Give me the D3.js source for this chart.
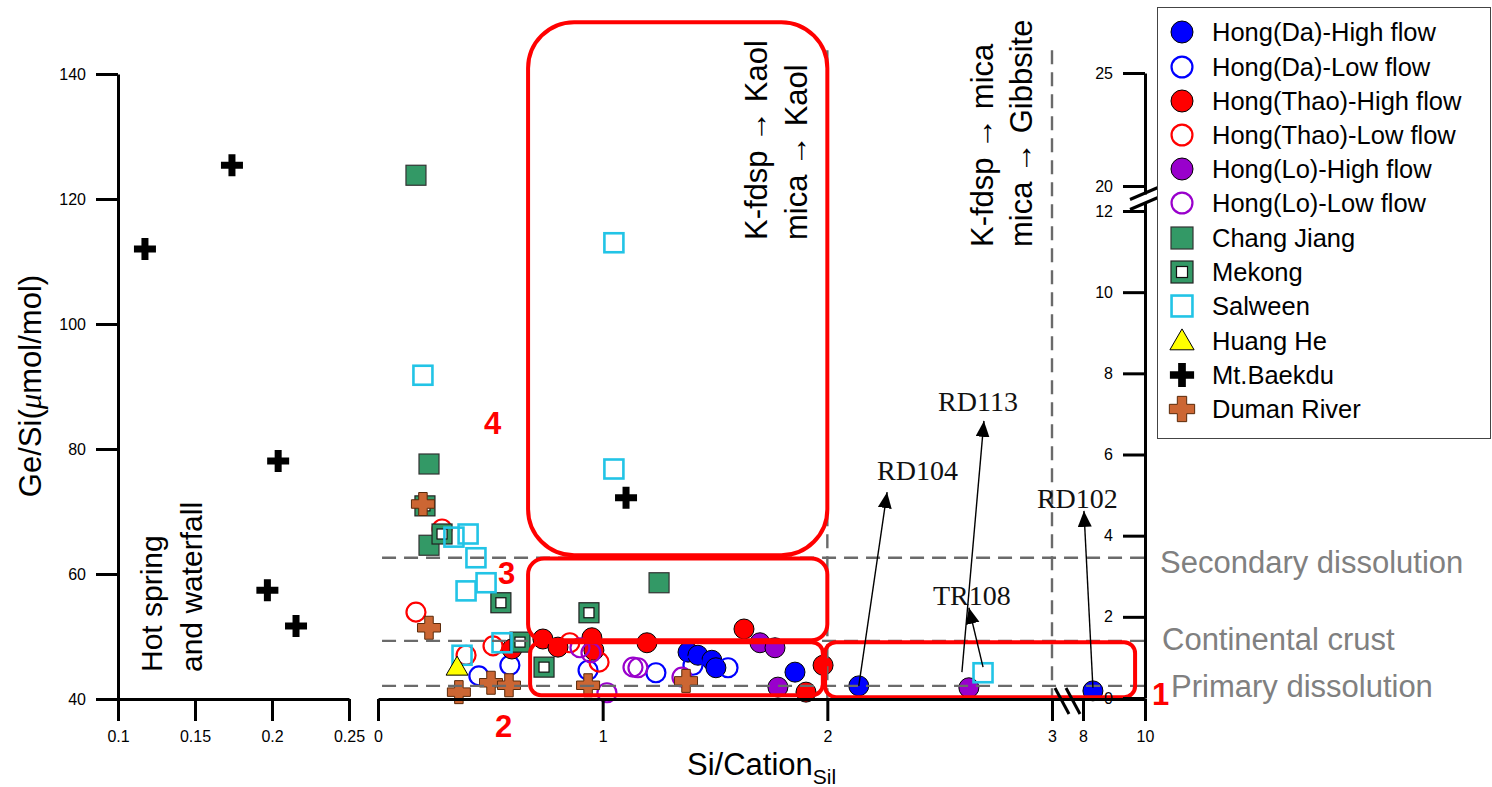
<!DOCTYPE html>
<html><head><meta charset="utf-8">
<script src="https://cdn.jsdelivr.net/npm/d3@7"></script>
<style>body{margin:0;background:#fff;} svg{display:block;}</style>
</head><body>
<svg id="chart" width="1492" height="787"></svg>
<script>
// ---------------- DATA ----------------
const leftXTicks = [0.1, 0.15, 0.2, 0.25];
const leftXTickLabels = ["0.1", "0.15", "0.2", "0.25"];
const leftYTicks = [40, 60, 80, 100, 120, 140];
const midXTicks = [0, 1, 2, 3, 8, 10];
const midXTickLabels = ["0", "1", "2", "3", "8", "10"];
const rightYTicks = [0, 2, 4, 6, 8, 10, 12, 20, 25];

// left panel (hot spring & waterfall)
const mtBaekduHot = [[0.1175,112.0],[0.174,125.4],[0.204,78.1],[0.197,57.4],[0.2156,51.7]];

// main panel series: [Si/Cation_Sil, Ge/Si]
const hongDaHigh   = [[1.380,47.5],[1.424,47.0],[1.486,46.2],[1.504,45.0],[1.856,44.3],[2.14,42.1],[8.32,41.3]];
const hongDaLow    = [[0.449,43.7],[0.587,45.4],[0.935,44.6],[1.237,44.2],[1.402,45.4],[1.558,45.0]];
const hongThaoHigh = [[0.596,48.0],[0.734,49.6],[0.801,48.3],[0.952,49.8],[0.961,47.8],[1.197,49.0],[1.629,51.2],[1.905,41.1],[1.981,45.4]];
const hongThaoLow  = [[0.169,53.9],[0.285,67.2],[0.392,47.0],[0.512,48.5],[0.854,49.0],[0.984,45.9]];
const hongLoHigh   = [[1.700,49.0],[1.767,48.2],[1.780,41.9],[2.63,41.8]];
const hongLoLow    = [[0.899,48.2],[0.948,47.4],[1.019,41.0],[1.135,45.1],[1.157,45.0],[1.353,43.5]];
const changJiang   = [[0.169,123.8],[0.227,77.6],[0.227,64.6],[1.251,58.6]];
const mekong       = [[0.209,70.9],[0.285,66.4],[0.547,55.4],[0.632,49.1],[0.739,45.1],[0.939,53.8]];
const salween      = [[0.200,91.8],[1.050,113.0],[1.050,76.8],[0.338,65.9],[0.401,66.4],[0.436,62.6],[0.481,58.6],[0.392,57.3],[0.552,49.0],[0.374,47.0],[2.693,44.2]];
const huangHe      = [[0.352,45.1]];
const mtBaekdu     = [[1.104,72.2]];
const dumanRiver   = [[0.200,71.2],[0.227,51.4],[0.360,41.1],[0.503,42.6],[0.583,42.2],[0.935,42.2],[1.371,42.9]];

// reference lines (Ge/Si) and weathering limits (Si/Cation)
const refLevels = [62.6, 49.3, 42.1];
const refLabels = ["Secondary dissolution", "Continental crust", "Primary dissolution"];
const limitX = [2, 3];

// region boxes [x0, x1, yTop, yBottom] and their numbers
const regionBoxes = [[0.668, 2.0, 148.3, 63.0], [0.668, 2.0, 62.5, 49.4], [0.677, 1.98, 49.1, 40.6], [1.99, 9.68, 49.1, 40.3]];
const regionNames = ["4", "3", "2", "1"];

// sample annotations
const annotNames = ["RD104", "RD113", "TR108", "RD102"];
const annotFrom  = [[2.14,42.1],[2.599,44.3],[2.693,45.1],[8.32,41.8]];
const annotTip   = [[2.266,73.1],[2.697,84.5],[2.63,54.6],[8.03,70.1]];
const annotText  = [[2.221,75.0],[2.493,86.1],[2.470,55.0],[2.933,70.6]];

const legendNames = ["Hong(Da)-High flow","Hong(Da)-Low flow","Hong(Thao)-High flow","Hong(Thao)-Low flow","Hong(Lo)-High flow","Hong(Lo)-Low flow","Chang Jiang","Mekong","Salween","Huang He","Mt.Baekdu","Duman River"];

// ---------------- SETUP ----------------
const svg = d3.select("#chart");
const FONT = "'Liberation Sans', Arial, sans-serif";

const xL = d3.scaleLinear().domain([0.1, 0.25]).range([118, 349]);
const y  = d3.scaleLinear().domain([40, 140]).range([699, 74]);
const xM = d3.scaleLinear().domain([0, 3, 8, 10]).range([378, 1052, 1083, 1145]);
const yR = d3.scaleLinear().domain([0, 12, 20, 25]).range([698, 211, 186, 73]);

const C = {
  blue: "#0000ff", red: "#ff0000", purple: "#9900cc", green: "#339966",
  cyan: "#22c4e6", yellow: "#ffff00", brown: "#cc6633", black: "#000"
};

function plusPath(w, t) {
  const a = w / 2, b = t / 2;
  return `M${-b},${-a}H${b}V${-b}H${a}V${b}H${b}V${a}H${-b}V${b}H${-a}V${-b}H${-b}Z`;
}

function drawMarker(g, kind, cx, cy, s) {
  s = s || 1;
  const t = `translate(${cx},${cy})`;
  switch (kind) {
    case "dahigh":   g.append("circle").attr("cx",cx).attr("cy",cy).attr("r",10*s).attr("fill",C.blue).attr("stroke","#000").attr("stroke-width",1); break;
    case "dalow":    g.append("circle").attr("cx",cx).attr("cy",cy).attr("r",9.5*s).attr("fill","none").attr("stroke",C.blue).attr("stroke-width",2.2); break;
    case "thaohigh": g.append("circle").attr("cx",cx).attr("cy",cy).attr("r",10*s).attr("fill",C.red).attr("stroke","#000").attr("stroke-width",1); break;
    case "thaolow":  g.append("circle").attr("cx",cx).attr("cy",cy).attr("r",9.5*s).attr("fill","none").attr("stroke",C.red).attr("stroke-width",2.2); break;
    case "lohigh":   g.append("circle").attr("cx",cx).attr("cy",cy).attr("r",10*s).attr("fill",C.purple).attr("stroke","#000").attr("stroke-width",1); break;
    case "lolow":    g.append("circle").attr("cx",cx).attr("cy",cy).attr("r",9.5*s).attr("fill","none").attr("stroke",C.purple).attr("stroke-width",2.2); break;
    case "chang":
      g.append("rect").attr("x",cx-10*s).attr("y",cy-10*s).attr("width",20*s).attr("height",20*s).attr("fill",C.green).attr("stroke","#333").attr("stroke-width",1.2); break;
    case "mekong":
      g.append("rect").attr("x",cx-10*s).attr("y",cy-10*s).attr("width",20*s).attr("height",20*s).attr("fill",C.green).attr("stroke","#222").attr("stroke-width",1.2);
      g.append("rect").attr("x",cx-5*s).attr("y",cy-5*s).attr("width",10*s).attr("height",10*s).attr("fill","#fff").attr("stroke","#111").attr("stroke-width",1.2); break;
    case "salween":
      g.append("rect").attr("x",cx-9.5*s).attr("y",cy-9.5*s).attr("width",19*s).attr("height",19*s).attr("fill","none").attr("stroke",C.cyan).attr("stroke-width",2.6); break;
    case "huang":
      g.append("path").attr("transform",t).attr("d",`M0,${-11*s}L${11*s},${8*s}L${-11*s},${8*s}Z`).attr("fill",C.yellow).attr("stroke","#000").attr("stroke-width",1); break;
    case "baekdu":
      g.append("path").attr("transform",t).attr("d",plusPath(22*s,7*s)).attr("fill","#000"); break;
    case "duman":
      g.append("path").attr("transform",t).attr("d",plusPath(23*s,8.5*s)).attr("fill",C.brown).attr("stroke","#5a2a0a").attr("stroke-width",1); break;
  }
}

const seriesList = [
  [hongDaHigh,"dahigh"],[hongDaLow,"dalow"],[hongThaoHigh,"thaohigh"],[hongThaoLow,"thaolow"],
  [hongLoHigh,"lohigh"],[hongLoLow,"lolow"],[changJiang,"chang"],[mekong,"mekong"],
  [salween,"salween"],[huangHe,"huang"],[mtBaekdu,"baekdu"],[dumanRiver,"duman"]
];

// ---------------- POINTS ----------------
const gPts = svg.append("g");
mtBaekduHot.forEach(d => drawMarker(gPts, "baekdu", xL(d[0]), y(d[1])));
seriesList.forEach(([data, kind]) => data.forEach(d => drawMarker(gPts, kind, xM(d[0]), y(d[1]))));

// ---------------- REFERENCE LINES ----------------
const gRef = svg.append("g").attr("stroke","#6a6a6a").attr("stroke-width",2.4).attr("stroke-dasharray","14,8").attr("fill","none");
refLevels.forEach(v => gRef.append("line").attr("x1",xM(0.018)).attr("x2",xM(10)).attr("y1",y(v)).attr("y2",y(v)));
limitX.forEach(v => gRef.append("line").attr("x1",xM(v)).attr("x2",xM(v)).attr("y1",y(143.8)).attr("y2",y(40)));

refLabels.forEach((lab, i) => {
  const ys = [573, 650, 697];
  const xs = [1160, 1162, 1171];
  svg.append("text").attr("x",xs[i]).attr("y",ys[i]).attr("font-family",FONT).attr("font-size",31).attr("fill","#808080").text(lab);
});

// ---------------- REGION BOXES ----------------
const radii = [46, 16, 11, 11];
regionBoxes.forEach((b, i) => {
  const x0 = xM(b[0]), x1 = xM(b[1]), y0 = y(b[2]), y1 = y(b[3]);
  svg.append("rect").attr("x",x0).attr("y",y0).attr("width",x1-x0).attr("height",y1-y0)
    .attr("rx",radii[i]).attr("ry",radii[i]).attr("fill","none").attr("stroke",C.red).attr("stroke-width",4);
});
const numPos = [[484,434],[498,584],[495,737],[1152,705]];
regionNames.forEach((n,i) => svg.append("text").attr("x",numPos[i][0]).attr("y",numPos[i][1])
  .attr("font-family",FONT).attr("font-weight","bold").attr("font-size",31).attr("fill",C.red).text(n));

// ---------------- AXES ----------------
function styleAxis(g) {
  g.selectAll(".domain").attr("stroke","#000").attr("stroke-width",3);
  g.selectAll(".tick line").attr("stroke","#000").attr("stroke-width",3);
  g.selectAll(".tick text").attr("font-family",FONT).attr("font-size",16).attr("fill","#000");
}
styleAxis(svg.append("g").attr("transform","translate(118,0)")
  .call(d3.axisLeft(y).tickValues(leftYTicks).tickSize(22).tickSizeOuter(0).tickPadding(10)));
styleAxis(svg.append("g").attr("transform","translate(0,699)")
  .call(d3.axisBottom(xL).tickValues(leftXTicks).tickFormat((d,i)=>leftXTickLabels[i]).tickSize(22).tickSizeOuter(0).tickPadding(10)));
styleAxis(svg.append("g").attr("transform","translate(0,699)")
  .call(d3.axisBottom(xM).tickValues(midXTicks).tickFormat((d,i)=>midXTickLabels[i]).tickSize(22).tickSizeOuter(0).tickPadding(10)));
styleAxis(svg.append("g").attr("transform","translate(1145,0)")
  .call(d3.axisLeft(yR).tickValues(rightYTicks).tickSize(22).tickSizeOuter(0).tickPadding(10)));

// axis breaks
const byMid = (yR(12) + yR(20)) / 2;
svg.append("rect").attr("x",1140).attr("y",byMid-4).attr("width",10).attr("height",8).attr("fill","#fff");
[-5, 5].forEach(o => svg.append("line").attr("x1",1130).attr("y1",byMid+o+6).attr("x2",1158).attr("y2",byMid+o-6)
  .attr("stroke","#000").attr("stroke-width",3));
const bxMid = (xM(3) + xM(8)) / 2;
[-5.5, 5.5].forEach(o => svg.append("line").attr("x1",bxMid+o-7).attr("y1",688).attr("x2",bxMid+o+7).attr("y2",714)
  .attr("stroke","#000").attr("stroke-width",3));

// ---------------- ANNOTATIONS ----------------
svg.append("defs").append("marker").attr("id","ah").attr("markerUnits","userSpaceOnUse")
  .attr("markerWidth",18).attr("markerHeight",16).attr("refX",16).attr("refY",7).attr("orient","auto")
  .append("path").attr("d","M0,0L16,7L0,14Z").attr("fill","#000");
annotNames.forEach((n, i) => {
  svg.append("line").attr("x1",xM(annotFrom[i][0])).attr("y1",y(annotFrom[i][1]))
    .attr("x2",xM(annotTip[i][0])).attr("y2",y(annotTip[i][1]))
    .attr("stroke","#000").attr("stroke-width",1.4).attr("marker-end","url(#ah)");
  svg.append("text").attr("x",xM(annotText[i][0])).attr("y",y(annotText[i][1]))
    .attr("font-family","'Liberation Serif','DejaVu Serif',serif").attr("font-size",28).attr("fill","#111").text(n);
});

// rotated texts
function vtext(x, yy, str, size, anchor) {
  return svg.append("text").attr("transform",`translate(${x},${yy}) rotate(-90)`)
    .attr("font-family",FONT).attr("font-size",size).attr("text-anchor",anchor||"start").attr("fill","#000").text(str);
}
vtext(162, 672, "Hot spring", 30);
vtext(202, 672, "and waterfall", 30);
vtext(767, 240, "K-fdsp \u2192 Kaol", 31);
vtext(807, 240, "mica \u2192 Kaol", 31);
vtext(993, 247, "K-fdsp \u2192 mica", 31);
vtext(1032, 247, "mica \u2192 Gibbsite", 31);

// axis titles
const yt = svg.append("text").attr("transform","translate(41,386) rotate(-90)").attr("font-family",FONT)
  .attr("font-size",31).attr("text-anchor","middle").attr("fill","#000");
yt.append("tspan").text("Ge/Si(");
yt.append("tspan").attr("font-style","italic").attr("font-family","'Liberation Serif',serif").text("\u03bc");
yt.append("tspan").text("mol/mol)");

const xt = svg.append("text").attr("x",687).attr("y",775).attr("font-family",FONT).attr("font-size",31).attr("fill","#000");
xt.append("tspan").text("Si/Cation");
xt.append("tspan").attr("font-size",21).attr("dy",9).text("Sil");

// ---------------- LEGEND ----------------
const lg = svg.append("g");
lg.append("rect").attr("x",1157.5).attr("y",7.5).attr("width",333).attr("height",431).attr("fill","#fff").attr("stroke","#444").attr("stroke-width",1);
const rowY = [32, 67, 101, 135, 169, 203, 238, 272, 306, 341, 375, 409];
seriesList.forEach(([data, kind], i) => {
  drawMarker(lg, kind, 1182, rowY[i], 1.1);
  lg.append("text").attr("x",1212).attr("y",rowY[i]).attr("dy","0.36em").attr("font-family",FONT)
    .attr("font-size",25.5).attr("fill","#000").text(legendNames[i]);
});
</script>
</body></html>
